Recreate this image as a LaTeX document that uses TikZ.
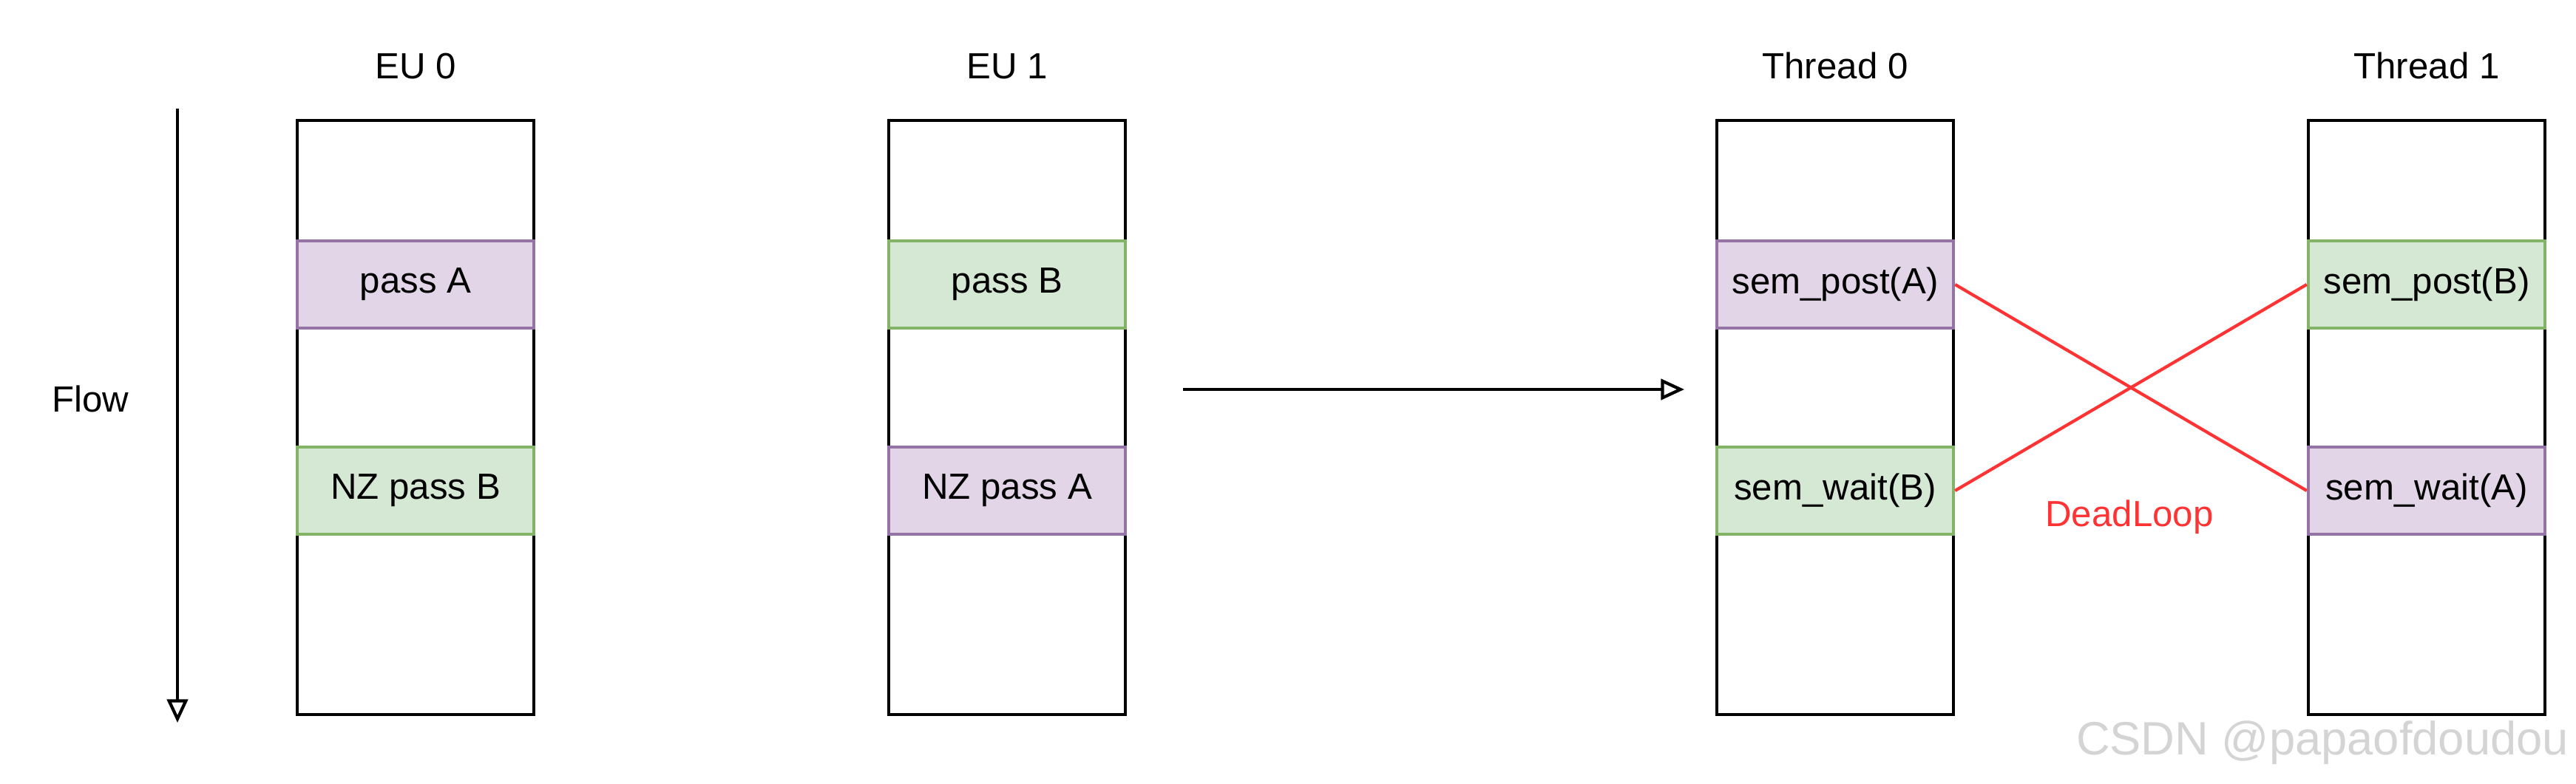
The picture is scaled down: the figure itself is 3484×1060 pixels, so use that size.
\documentclass[tikz,border=0pt]{standalone}
\usepackage{fontspec}
\setmainfont{Liberation Sans}
\usetikzlibrary{arrows.meta,positioning}
\definecolor{PassPurple}{HTML}{9673A6}
\definecolor{PassPalePurple}{HTML}{E1D5E7}
\definecolor{PassGreen}{HTML}{82B366}
\definecolor{PassPaleGreen}{HTML}{D5E8D4}
\definecolor{LoopRed}{HTML}{FF3333}
\definecolor{MarkGray}{HTML}{D4D4D4}
\tikzset{
  flow/.style={-{Triangle[open,length=9pt,width=8pt]}, line width=1.2pt, draw=black},
  lock/.style={line width=1.2pt, draw=LoopRed},
  column/.style={draw=black, fill=white, line width=1.2pt,
                 minimum width=3.2cm, minimum height=8.03cm, inner sep=0pt},
  band/.style={line width=1.2pt, minimum width=3.2cm, minimum height=1.18cm,
               inner sep=0pt, align=center},
  pa/.style={band, fill=PassPalePurple, draw=PassPurple},
  pb/.style={band, fill=PassPaleGreen, draw=PassGreen},
  title/.style={font=\fontsize{14}{16}\selectfont},
}

\begin{document}
\begin{tikzpicture}[x=0.01cm,y=-0.01cm,font=\fontsize{14}{16}\selectfont]
    \useasboundingbox (0,0) rectangle (3484,1060);
    \coordinate (top) at (240,147);
    \coordinate (bottom) at (240,978);
    \draw[flow] (top) -- (bottom);
    \node (flow) at (122,540) {Flow};
    % execution units
    \node[column] (eu0) at (562,565) {};
    \node[pa] (eu0a) at (562,385) {pass A};
    \node[pb] (eu0b) at (562,664) {NZ pass B};
    \node[title,above=12pt of eu0] (eu0t) {EU 0};
    \node[column] (eu1) at (1362,565) {};
    \node[pb] (eu1b) at (1362,385) {pass B};
    \node[pa] (eu1a) at (1362,664) {NZ pass A};
    \node[title,above=12pt of eu1] (eu1t) {EU 1};
    \coordinate (from) at (1600,527);
    \coordinate (to) at (2278,527);
    \draw[flow] (from) -- (to);
    % threads
    \node[column] (th0) at (2482,565) {};
    \node[pa] (th0post) at (2482,385) {sem\_post(A)};
    \node[pb] (th0wait) at (2482,664) {sem\_wait(B)};
    \node[title,above=12pt of th0] (th0t) {Thread 0};
    \node[column] (th1) at (3282,565) {};
    \node[pb] (th1post) at (3282,385) {sem\_post(B)};
    \node[pa] (th1wait) at (3282,664) {sem\_wait(A)};
    \node[title,above=12pt of th1] (th1t) {Thread 1};
    \draw[lock] (th0post.east) -- (th1wait.west);
    \draw[lock] (th0wait.east) -- (th1post.west);
    \node[text=LoopRed] (dead) at (2880,700) {DeadLoop};
    \node[text=MarkGray,font=\fontsize{18}{21}\selectfont] (mark) at (3141,1005) {CSDN @papaofdoudou};
  \end{tikzpicture}
\end{document}
